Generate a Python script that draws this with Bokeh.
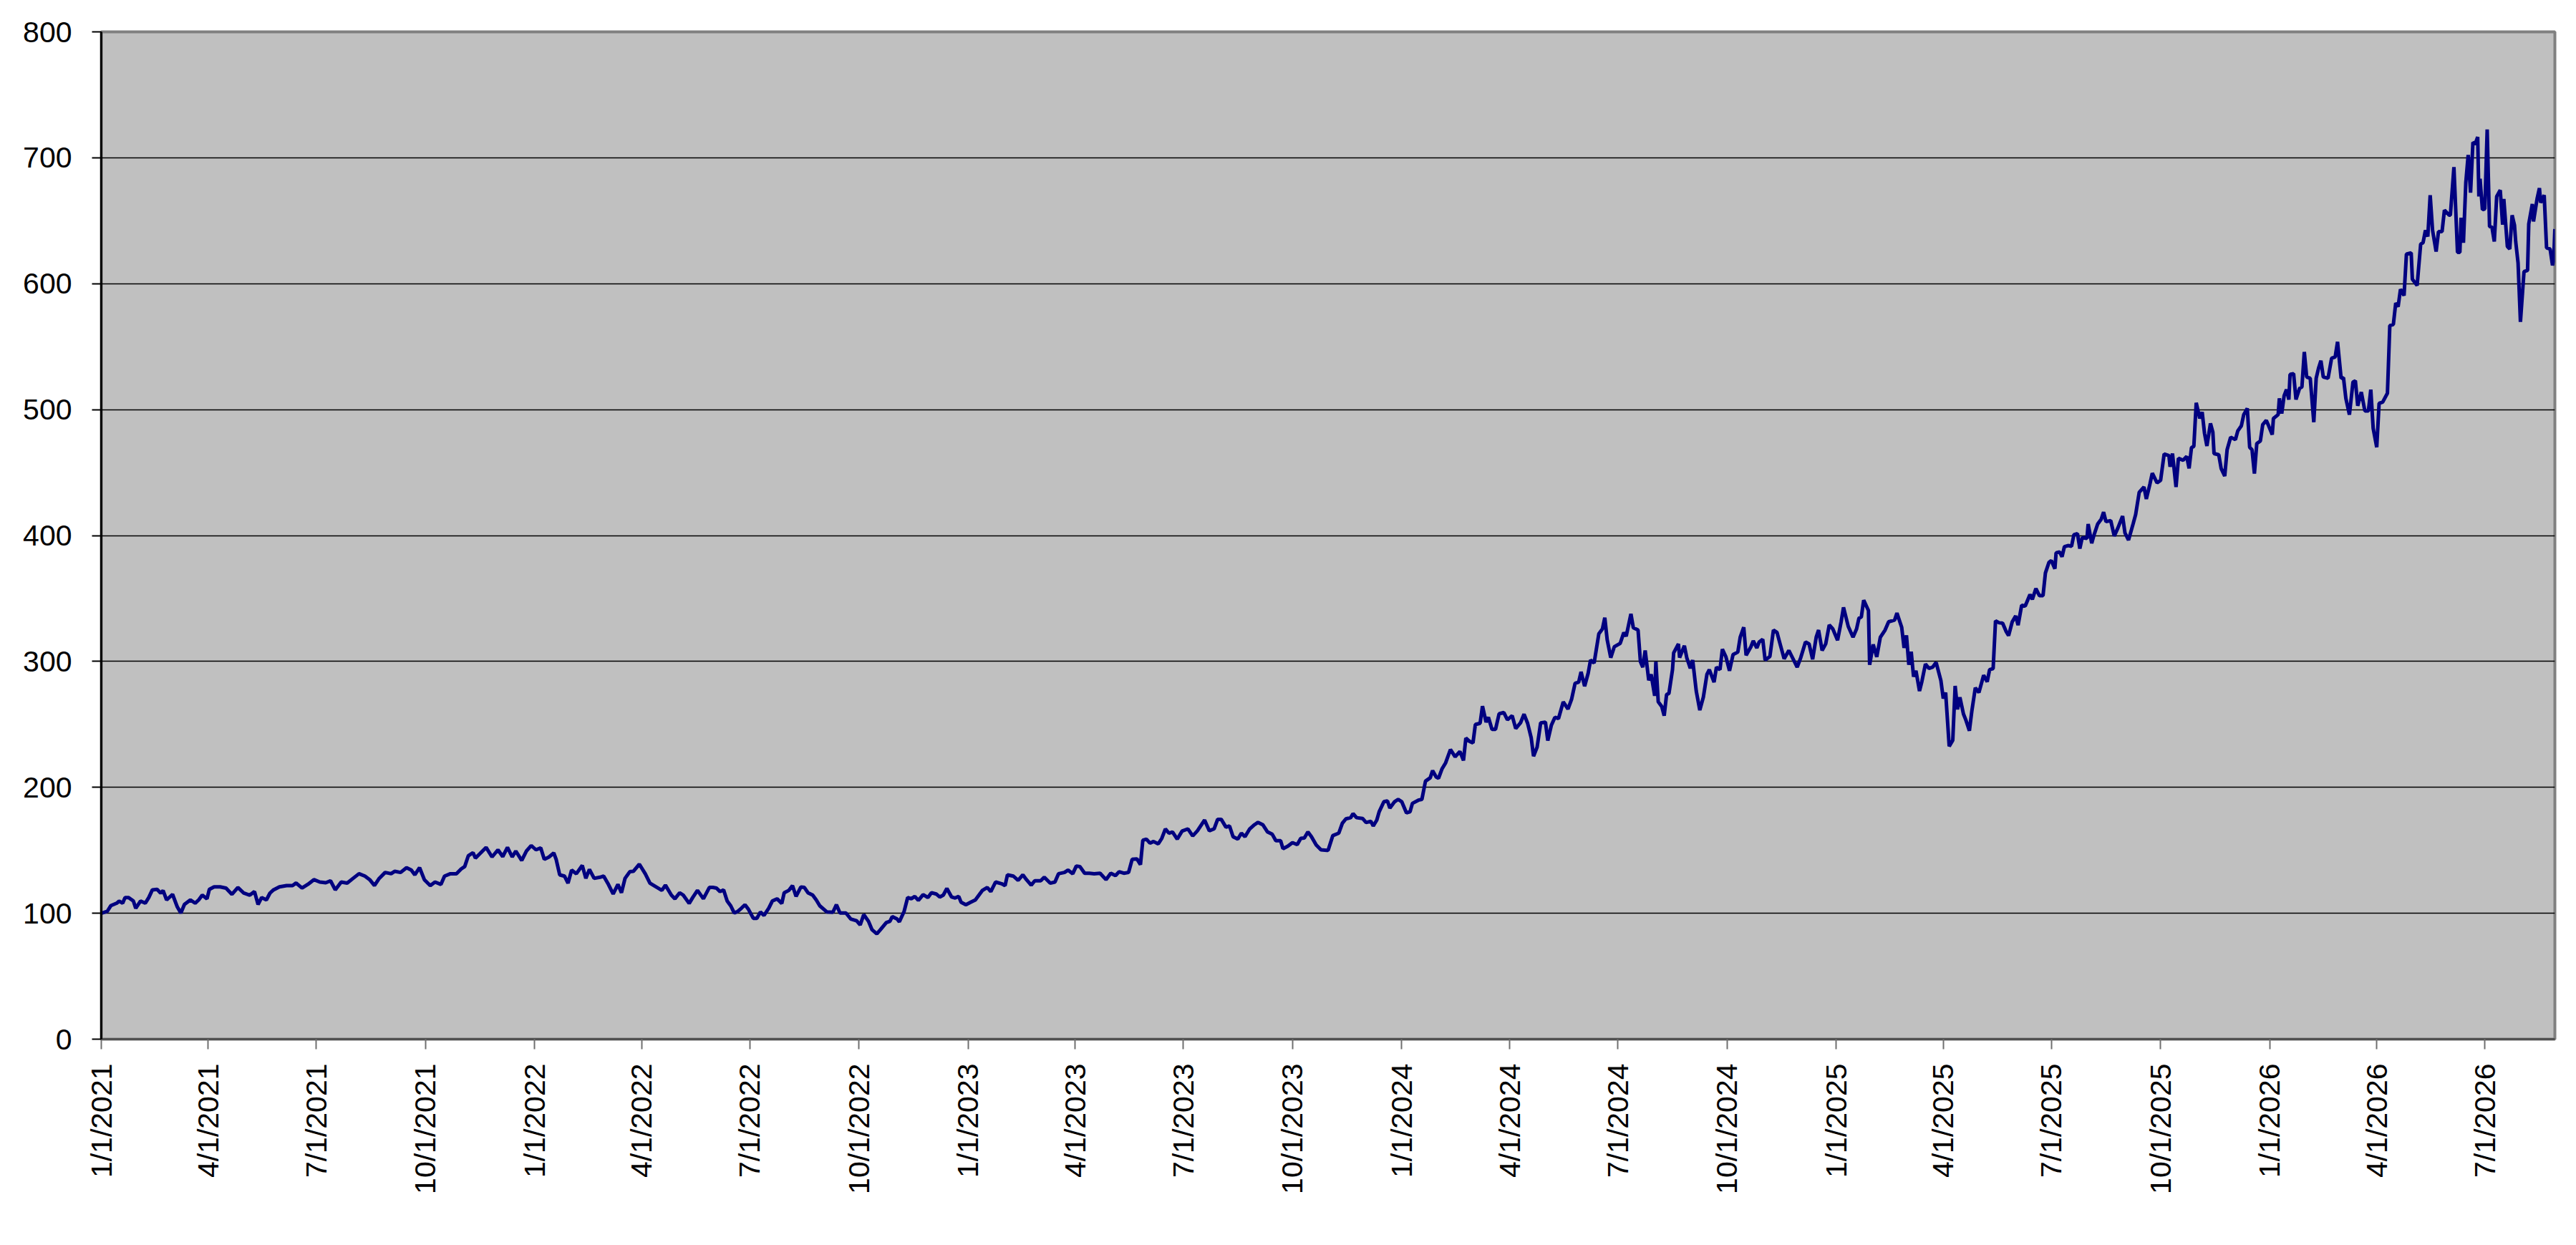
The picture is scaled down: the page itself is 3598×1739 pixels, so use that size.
import math
import pandas as pd
from bokeh.plotting import figure
from bokeh.models import Range1d, FixedTicker, CustomJSTickFormatter
from bokeh.embed import file_html
from bokeh.resources import INLINE

start_date = "2021-01-01"

tick_labels = ["1/1/2021", "4/1/2021", "7/1/2021", "10/1/2021",
               "1/1/2022", "4/1/2022", "7/1/2022", "10/1/2022",
               "1/1/2023", "4/1/2023", "7/1/2023", "10/1/2023",
               "1/1/2024", "4/1/2024", "7/1/2024", "10/1/2024",
               "1/1/2025", "4/1/2025", "7/1/2025", "10/1/2025",
               "1/1/2026", "4/1/2026", "7/1/2026"]
y_ticks = [0, 100, 200, 300, 400, 500, 600, 700, 800]

# days since start_date
day_offset = [
    0, 5, 8, 13, 15, 18, 20, 23, 27, 29,
    33, 37, 40, 43, 47, 50, 52, 55, 60, 64,
    67, 70, 75, 79, 82, 85, 89, 91, 95, 100,
    105, 110, 115, 120, 125, 129, 132, 135, 139, 142,
    145, 150, 156, 161, 164, 169, 174, 179, 184, 189,
    193, 197, 202, 207, 212, 217, 222, 226, 230, 234,
    239, 244, 247, 252, 257, 261, 264, 268, 272, 277,
    281, 286, 289, 294, 299, 303, 306, 309, 313, 315,
    319, 324, 329, 334, 338, 342, 346, 349, 354, 358,
    362, 366, 370, 373, 377, 381, 383, 386, 390, 393,
    396, 400, 405, 408, 411, 415, 420, 423, 427, 431,
    435, 438, 441, 445, 448, 453, 458, 462, 467, 472,
    475, 480, 483, 487, 490, 495, 498, 502, 507, 512,
    515, 518, 521, 524, 527, 530, 533, 536, 539, 542,
    545, 549, 552, 555, 558, 562, 565, 569, 573, 575,
    579, 582, 585, 589, 592, 595, 599, 602, 605, 611,
    616, 619, 622, 627, 631, 636, 639, 642, 646, 649,
    653, 656, 661, 664, 666, 670, 672, 676, 679, 682,
    685, 688, 692, 696, 699, 703, 706, 709, 712, 716,
    719, 722, 724, 728, 732, 736, 739, 742, 746, 749,
    753, 758, 761, 763, 768, 772, 776, 779, 783, 786,
    791, 794, 799, 803, 806, 811, 814, 818, 821, 824,
    828, 832, 836, 841, 846, 850, 854, 857, 861, 865,
    868, 872, 875, 877, 880, 883, 886, 890, 893, 896,
    899, 902, 906, 910, 915, 919, 923, 927, 929, 933,
    937, 940, 943, 947, 950, 953, 957, 960, 963, 967,
    971, 974, 978, 982, 986, 989, 993, 995, 999, 1003,
    1007, 1010, 1013, 1016, 1019, 1023, 1027, 1032,
    1033, 1037, 1042, 1045, 1048, 1052, 1054, 1057, 1062, 1065,
    1069, 1071, 1074, 1076, 1080, 1083, 1085, 1089, 1092, 1095,
    1099, 1102, 1104, 1109, 1112, 1115, 1119, 1121, 1124, 1126,
    1129, 1132, 1136, 1140, 1144, 1147, 1149, 1152, 1155, 1157,
    1161, 1163, 1166, 1168, 1171, 1174, 1177, 1181, 1184, 1188,
    1191, 1195, 1198, 1201, 1204, 1206, 1209, 1212, 1216, 1218,
    1221, 1224, 1227, 1231, 1235, 1238, 1241, 1244, 1246, 1249,
    1252, 1254, 1257, 1261, 1264, 1266, 1268, 1271, 1274, 1279,
    1282, 1284, 1288, 1290, 1294, 1296, 1298, 1300, 1303, 1305,
    1308, 1309, 1311, 1314, 1316, 1318, 1320, 1323, 1324, 1328,
    1329, 1333, 1335, 1338, 1340, 1343, 1346, 1349, 1352, 1354,
    1358, 1360, 1363, 1365, 1368, 1371, 1374, 1378, 1380, 1383,
    1385, 1389, 1391, 1394, 1396, 1399, 1401, 1405, 1408, 1411,
    1414, 1417, 1421, 1423, 1428, 1431, 1435, 1438, 1441, 1444,
    1446, 1449, 1452, 1455, 1458, 1462, 1465, 1467, 1471, 1475,
    1478, 1480, 1482, 1484, 1488, 1489, 1492, 1495, 1498, 1502,
    1505, 1510, 1512, 1516, 1518, 1520, 1522, 1524, 1526, 1528,
    1531, 1533, 1536, 1539, 1542, 1545,
    1549, 1551, 1553, 1556, 1559, 1561, 1563, 1565, 1568, 1570,
    1573, 1575, 1578, 1581, 1585, 1588, 1590, 1593, 1595, 1598,
    1601, 1604, 1606, 1609, 1612, 1614, 1617, 1620, 1624, 1626,
    1629, 1632, 1635, 1637, 1640, 1642, 1645, 1646, 1649, 1651,
    1653, 1656, 1659, 1661, 1664, 1666, 1668, 1672, 1673, 1676,
    1678, 1681, 1684, 1686, 1688, 1692, 1695, 1698, 1702, 1704,
    1707, 1711, 1713, 1716, 1720, 1722, 1725, 1727, 1731, 1734,
    1737, 1741, 1742, 1744, 1747, 1749, 1753, 1756, 1758, 1760,
    1762,
    1764, 1767, 1769, 1771, 1773, 1776, 1778, 1779, 1783, 1785,
    1788, 1790, 1793, 1797, 1799, 1802, 1804, 1807, 1809, 1811,
    1813, 1815, 1818, 1820, 1823, 1825, 1828, 1829, 1833, 1834,
    1836, 1838, 1840, 1842, 1843, 1846, 1848, 1851, 1853, 1855,
    1857, 1860, 1863, 1865, 1867, 1869, 1871, 1875, 1878, 1881,
    1883, 1886, 1888, 1890, 1893, 1896, 1898, 1900, 1903, 1906,
    1909, 1911, 1913, 1916, 1918, 1921, 1925, 1927, 1930, 1932,
    1934, 1936, 1939, 1941, 1945, 1946, 1950, 1953, 1955, 1957,
    1959, 1961, 1963, 1966, 1968, 1971, 1973, 1977, 1978, 1981,
    1984, 1986, 1987, 1989, 1991, 1993, 1995, 1997, 1999, 2001,
    2002, 2003, 2005, 2007, 2009, 2011, 2013, 2015, 2017, 2020,
    2022, 2023, 2026, 2028, 2030, 2032, 2033, 2035, 2037, 2040,
    2043, 2044, 2047, 2048, 2051, 2053, 2054, 2057, 2059, 2062,
    2064, 2065, 2066,
]

price = [
    100, 101.5, 106, 108, 109.7, 108, 112.5, 112.5, 109.7, 104,
    109.7, 108, 112.5, 118.6, 119, 116, 118, 110.6, 115, 105,
    100.2, 107, 110.6, 108, 110.6, 114.4, 111.5, 119, 121, 121,
    120, 115, 120.5, 116, 114.4, 117.2, 107, 112.5, 110.6, 116,
    118.6, 121, 122, 122, 124, 120, 123, 126.7, 124.8, 124.2,
    125.8, 118.6, 124.8, 124, 127.7, 131.4, 129.5, 126.7, 122, 127.7,
    132.4, 131.4, 133.3, 132.4, 136.2, 134.3, 130.5, 136.2, 126.7, 122,
    124.8, 122.9, 129.5, 131.4, 131.4, 135.2, 137.1, 145.6, 148.1, 143.8,
    147.5, 152.3, 144.7, 150.4, 145, 152.3, 144.7, 149.4, 141.9, 149.4,
    153.8, 150.4, 151.9, 142.8, 144.7, 147.9, 142.8, 130.5, 129.5, 123.9,
    134.3, 131.4, 138, 127.7, 134.8, 127.7, 128.6, 129.5, 122.9, 115.3,
    122.9, 116.3, 127.7, 133, 133.3, 139, 131.4, 123.9, 121, 118.2,
    122.3, 114.4, 111.5, 116.3, 114.4, 107.8, 112.5, 118.2, 111.5, 120.5,
    120.5, 120, 117.2, 118.6, 109.7, 105.9, 100.2, 101.5, 104, 106.8,
    103, 96, 96, 101, 98.3, 104, 109.7, 111.5, 107.8, 116.3,
    118.2, 122, 113.4, 120.8, 120.5, 116.3, 114.4, 110.6, 105.9, 101,
    100.8, 106.8, 100.2, 100.2, 95.5, 94, 90.7, 98.9, 93.6, 86.9,
    83.7, 86.9, 92.6, 93.6, 97.3, 95.5, 93.2, 101.5, 112.5, 111.5,
    113.4, 110.2, 114.8, 112.5, 116.3, 115.3, 112.9, 114.4, 119.7, 112.9,
    112.1, 113.4, 108.7, 106.8, 108.7, 110.6, 114.4, 118.2, 120.5, 117.2,
    124.8, 123.5, 122, 130.5, 129.5, 126.1, 130.5, 126.7, 122.3, 125.8,
    125.8, 128.6, 123.9, 124.8, 131.4, 132.4, 134.3, 131.4, 137.5, 137.1,
    131.8, 131.8, 131.4, 131.8, 126.7, 131.8, 129.9, 133, 131.8, 132.4,
    142.8, 143.2, 138.6, 158, 158.9, 155.7, 157, 155.1, 159.5, 167,
    163.6, 164.6, 158.9, 165.2, 167, 161.4, 165.5, 171.2, 174, 165.5,
    167, 174.6, 174.6, 168.4, 169.3, 160.8, 158.9, 163.6, 160.8, 167,
    170.3, 172.2, 170.3, 164.6, 162.7, 157.6, 157.6, 151.3, 153.2, 156.1,
    154.5, 159.5, 159.8, 164.6, 160.8, 154.2, 150.4, 150,
    149.9, 161.7, 163.6, 171.5, 175, 175.9, 179.1, 175.9, 175.3, 172.1,
    173.1, 169.3, 174, 180.6, 188.6, 189.2, 183.5, 188.6, 190.5, 188.6,
    179.7, 180.6, 187.3, 189.8, 190.5, 204.9, 207.6, 213.3, 208.2, 207.2,
    214.8, 219.5, 230, 224.3, 228.5, 221.4, 239.1, 236.6, 235.3, 249.9,
    250.9, 264.5, 251.8, 255.6, 246.1, 246.1, 258.4, 259.4, 253.7, 256.9,
    246.7, 251.2, 258.1, 250.9, 239.5, 224.7, 231.9, 251.2, 251.8, 237.2,
    249.3, 255.6, 254.6, 267.9, 262.2, 269.8, 282.7, 283.5, 291.7, 280.3,
    290.7, 301.1, 298.7, 322, 325.8, 334.7, 317.3, 303, 311.6, 314.4,
    322.9, 320, 337.8, 326.8, 324.9, 299.8, 295.4, 308.7, 285, 289.8,
    272.7, 299.8, 267.9, 264.1, 256.9, 273.6, 274.6, 293.5, 306.8, 313.9,
    303, 312.5, 303, 294.5, 301.1, 276.5, 261.3, 271.7, 289.8, 293.5,
    283.5, 295.4, 293.5, 309.7, 303.6, 292.6, 305.5, 307.4, 319.2, 327.1,
    304.9, 311.6, 316.3, 310.7, 315.4, 317.6, 301.1, 303.9, 324.9, 323,
    312.5, 302.1, 308.7, 304.9, 295.4, 303, 315.4, 313.9, 301.7, 319.2,
    324.9, 308.7, 313.9, 329, 325.8, 316.9, 331.5, 342.9, 327.8, 319.2,
    325.8, 334.3, 335.3, 348.6, 340.4, 297.3, 313.5, 303.6, 319.2, 324.9,
    331.5, 332.8, 338.5, 327.1, 310.7, 320.7, 297.3, 307.7, 287.9, 292.6,
    276.5, 284.1, 297.9, 294.5, 295.4, 299.2,
    284.8, 270.6, 275.3, 232.6, 237.4, 280.6, 262, 271.5, 258.3, 253.5,
    245, 260.2, 279.1, 275.3, 289, 283.9, 293.4, 294.3, 332.3, 330.7,
    330.4, 323.7, 320.5, 331.3, 336.1, 328.8, 344.6, 344, 353.1, 349.3,
    357.9, 352.2, 352.2, 370.2, 378.7, 380.1, 373.6, 386.3, 386.9, 383.1,
    391.1, 392, 391.5, 400.6, 401.5, 389.6, 398.3, 397.7, 409.1, 393.9,
    400.6, 409.1, 412.9, 418.6, 411, 411.9, 399.6, 405.9, 415.4, 402.1,
    396.4, 409.7, 416.7, 434.3, 438.5, 429, 440.8, 449.5, 441.9, 443.8,
    464.7, 463.5, 454.6, 465.1, 438.5, 461.3, 459.8, 462.8, 453.3, 469.8,
    470.8,
    505.4, 493, 498, 481.1, 471.1, 489.1, 482.1, 465.1, 464.1, 453.2,
    447.2, 468.1, 478.1, 476.1, 483.1, 487.1, 496, 501, 470.1, 468.1,
    449.2, 473.1, 475.1, 488.1, 491.4, 487.1, 480.1, 493, 496, 508.9,
    496.9, 510.9, 515.9, 508, 527.9, 528.5, 508, 516.9, 517.9, 545.8,
    525.9, 524.9, 490, 524.9, 532.9, 538.8, 525.9, 524.9, 540.8, 541.8,
    553.8, 524.9, 525.3, 508.9, 496, 521.9, 522.9, 503, 513.9, 499,
    499, 515.9, 485.1, 470.1, 505, 506, 513, 566.7, 567.7, 584.7,
    581.7, 595.6, 590.6, 623.5, 624.5, 603.6, 598.6, 631.5, 632.5, 642.4,
    637.5, 670.3, 642.4, 625.5, 641.4, 641.4, 658.4, 654.4, 654.4, 692.6,
    624.9, 624.9, 652.4, 632.5, 680.3, 702.2, 672.3, 712.2, 711.2, 716.5,
    669.3, 683.3, 658.8, 659.4, 722.5, 645.4, 644.8, 633.5, 669.3, 674.3,
    646.8, 667.3, 629.5, 627.5, 654.4, 646.4, 633.5, 616.5, 569.7, 609.6,
    610.6, 647.4, 663.3, 649.4, 667.3, 675.9, 664.3, 670.3, 628.5, 627.5,
    614.5, 618.5, 643.4,
]

n = min(len(day_offset), len(price))
dates = pd.Timestamp(start_date) + pd.to_timedelta(day_offset[:n], unit="D")
values = price[:n]

epoch = pd.Timestamp("1970-01-01")
tick_dates = pd.to_datetime(tick_labels, format="%m/%d/%Y")
tick_ms = [(d - epoch).total_seconds() * 1000.0 for d in tick_dates]

p = figure(width=3582, height=1723, x_axis_type="datetime",
           output_backend="svg", toolbar_location=None,
           x_range=Range1d(dates[0], dates[-1]), y_range=Range1d(0, 800),
           min_border_left=141, min_border_right=14,
           min_border_top=44, min_border_bottom=272)

p.background_fill_color = "#C0C0C0"
p.border_fill_color = "white"
p.outline_line_color = "#808080"
p.outline_line_width = 4

p.line(dates, values, line_color="#000080", line_width=5)

FONT = "Liberation Sans"

p.xaxis.ticker = FixedTicker(ticks=tick_ms)
p.xaxis.formatter = CustomJSTickFormatter(code="""
const d = new Date(tick);
return (d.getUTCMonth() + 1) + "/" + d.getUTCDate() + "/" + d.getUTCFullYear();
""")
p.xaxis.major_label_orientation = math.pi / 2
p.xaxis.major_label_text_font = FONT
p.xaxis.major_label_text_font_size = "41px"
p.xaxis.major_label_text_color = "black"
p.xaxis.major_tick_out = 14
p.xaxis.major_tick_in = 0
p.xaxis.minor_tick_line_color = None
p.xaxis.major_tick_line_color = "#707070"
p.xaxis.major_tick_line_width = 2
p.xaxis.axis_line_color = "#505050"
p.xaxis.axis_line_width = 3
p.xaxis.major_label_standoff = 20

p.yaxis.ticker = FixedTicker(ticks=y_ticks)
p.yaxis.major_label_text_font = FONT
p.yaxis.major_label_text_font_size = "41px"
p.yaxis.major_label_text_color = "black"
p.yaxis.major_tick_out = 13
p.yaxis.major_tick_in = 0
p.yaxis.minor_tick_line_color = None
p.yaxis.major_tick_line_color = "black"
p.yaxis.major_tick_line_width = 2
p.yaxis.axis_line_color = "black"
p.yaxis.axis_line_width = 3
p.yaxis.major_label_standoff = 28

p.xgrid.grid_line_color = None
p.ygrid.grid_line_color = "black"
p.ygrid.grid_line_width = 1.5

open("out.html", "w").write(file_html(p, INLINE))
